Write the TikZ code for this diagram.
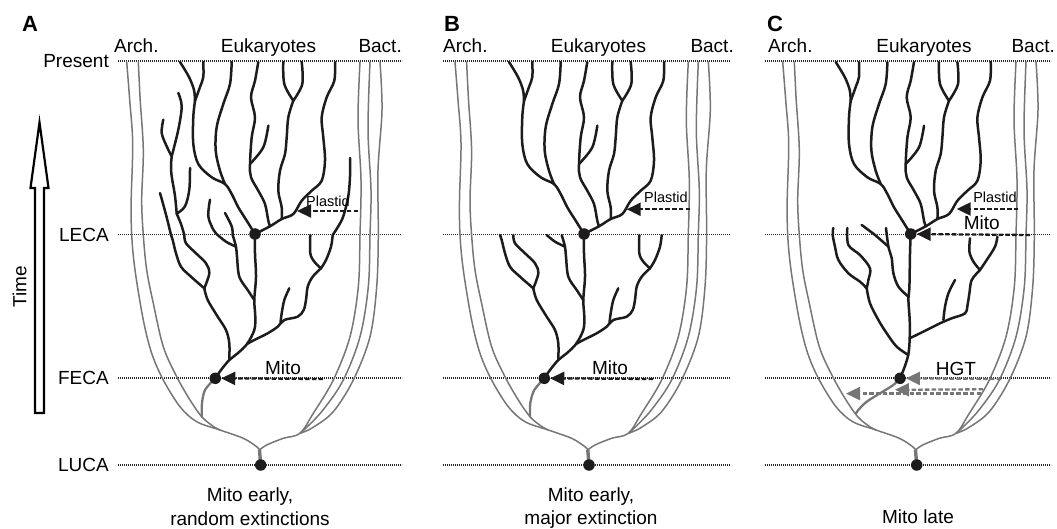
\documentclass[tikz,border=0pt]{standalone}
\usepackage{fontspec}
\setmainfont{Liberation Sans}
\usetikzlibrary{arrows.meta}
\definecolor{eukc}{RGB}{30,27,28}
\definecolor{grc}{RGB}{118,118,118}
\newcommand\lin[1]{\draw[euk] plot[smooth,tension=0.55] coordinates {#1};}
\newcommand\glin[1]{\draw[gr] plot[smooth,tension=0.55] coordinates {#1};}
% upper tree, relative to LECA
\newcommand\UpTree{%
\lin{(-75,-172) (-66,-157) (-61,-144) (-60,-133)}
\lin{(-51.7,-172) (-51.7,-157) (-55,-147) (-60,-133)}
\lin{(-60,-133) (-61.7,-117) (-61.7,-90) (-56.7,-70) (-43.3,-56.7) (-30,-50) (-23.3,-40) (-16.7,-26.7) (-8.3,-13.3) (0,0)}
\lin{(-23.3,-172) (-25,-150) (-31.7,-130) (-38.3,-107) (-39.3,-83.3) (-35,-63.3) (-30,-50)}
\lin{(13.3,-108.3) (8.3,-86.7) (-5,-70)}
\lin{(3.3,-172) (0,-153.3) (-4,-136.7) (0,-116.7) (-3.3,-96.7) (-5,-70) (-4,-56.7) (3.3,-43.3) (10,-30) (13.3,-13.3) (15,-7.7)}
\lin{(28.3,-172) (29.3,-150) (38.3,-133.3)}
\lin{(46.7,-172) (47.3,-150) (38.3,-133.3)}
\lin{(38.3,-133.3) (33.3,-116.7) (31.7,-96.7) (30,-80) (25,-63.3) (23.3,-43.3) (26.7,-26.7) (26.7,-15)}
\lin{(80,-172) (79.3,-153.3) (71.7,-136.7) (66.7,-116.7) (68.3,-96.7) (70,-73.3) (66.7,-53.3) (56.7,-43.3) (46.7,-33.3) (38.3,-20) (26.7,-15) (15,-7.7) (0,0)}
}
% lower tree (panels A, B), relative to LECA
\newcommand\LowTree{%
\lin{(0,0) (0,19.3) (1,42.7) (-0.7,66) (0.3,82.7) (-0.7,96) (-8,110) (-17.3,119.3) (-25.7,126) (-34,136) (-39.7,144.3)}
\lin{(-84,1) (-82.3,6) (-79,19.3) (-74,32.7) (-64,42.7) (-50.7,54.3)}
\lin{(-70.7,1) (-69,9.3) (-59,19.3) (-49,29.3) (-45.7,39.3) (-50.7,54.3)}
\lin{(-50.7,54.3) (-47.3,66) (-37.3,82.7) (-29,96) (-25.7,109.3) (-25.7,126)}
\lin{(-37.3,1) (-29,7.7) (-19,12.7)}
\lin{(-22.3,1) (-19,12.7) (-18,22.7) (-15.7,42.7) (-7.3,56) (-0.7,66)}
\lin{(55.3,1) (55.3,19.3) (59.3,27.7) (66,34.3)}
\lin{(77.7,1) (76,12.7) (71,26) (66,34.3)}
\lin{(66,34.3) (57.7,42.7) (52.7,52.7) (51,66) (48.7,76) (42.7,82.7) (29.3,86) (22.7,92.7) (12.7,99.3) (-0.7,106) (-8,110)}
\lin{(34.3,54.3) (29.3,66) (26.7,79.3) (25.5,88.5)}
}
% grey frame, relative to LUCA
\newcommand\GrayFrame{%
\glin{(-134,-403) (-131,-365) (-128,-322) (-129.5,-265) (-129,-230) (-125.7,-195) (-117.4,-145) (-109,-111.7) (-97.4,-85) (-80.7,-58.3) (-64,-43.3) (-40.7,-35) (-17.4,-26.7) (-4,-18.3) (-1.2,-15)}
\glin{(-122.4,-403) (-120.5,-365) (-117.4,-315) (-119,-265) (-117.4,-230) (-114,-195) (-107.4,-161.7) (-97.4,-118.3) (-84,-88.3) (-70.7,-65) (-59,-48.3) (-48,-39) (-40.7,-35)}
\glin{(99.3,-403) (97.3,-345) (100.3,-285) (99.3,-230) (97.6,-178.3) (89.3,-128.3) (72.6,-85) (52.6,-51.7) (39.3,-31.7) (22.6,-26.7) (6,-20) (-1.2,-15)}
\glin{(109.3,-403) (107.3,-335) (110.3,-275) (109.3,-230) (107.6,-178.3) (99.3,-128.3) (82.6,-85) (62.3,-55) (45.3,-37) (39.3,-31.7)}
\glin{(119.3,-403) (121.3,-355) (117.3,-295) (117.6,-230) (116,-178.3) (109.3,-128.3) (92.6,-85) (72.3,-53) (51.3,-37) (39.3,-31.7)}
\draw[gr,line width=3.4pt,line cap=butt] (-1.2,-15) -- (0,0);
}
\begin{document}
\begin{tikzpicture}[x=1pt,y=-1pt,
  euk/.style={line width=2.5pt, line cap=round, line join=round, draw=eukc},
  gr/.style={line width=1.5pt, line cap=round, line join=round, draw=grc},
  grstem/.style={line width=2.3pt, line cap=round, draw=grc},
  dotl/.style={line width=1.6pt, draw=black!85, dash pattern=on 1.1pt off 0.9pt},
  dotn/.style={circle, fill=eukc, inner sep=0pt, minimum size=11.5pt},
  lbl/.style={font=\fontsize{19}{22}\selectfont, inner sep=0pt, text=black},
  small/.style={font=\fontsize{14.5}{17}\selectfont, inner sep=0pt, text=black},
  letter/.style={font=\fontsize{22}{24}\selectfont\bfseries, inner sep=0pt},
  transfer/.style={line width=2.3pt, draw=eukc, dash pattern=on 4.5pt off 2.2pt, -{Triangle[length=14pt,width=13pt]}},
  hgt/.style={line width=2.3pt, draw=grc, dash pattern=on 4.5pt off 2.2pt, -{Triangle[length=14pt,width=13pt]}}
]
\useasboundingbox (0,0) rectangle (1057,529);

% dotted time lines
\foreach \xa/\xb in {118/402, 443/730, 765/1051}{
  \foreach \yy in {61,234.5,378,465}{
    \draw[dotl] (\xa,\yy) -- (\xb,\yy);
  }
}

% time arrow
\draw[line width=2.2pt, fill=white, line join=miter] (35,413) -- (35,188) -- (30.5,188) -- (39.5,122.5) -- (48.5,188) -- (44,188) -- (44,413) -- cycle;
\node[lbl, rotate=90] (time) at (19.5,286.5) {Time};

% row labels
\node[lbl, anchor=base east] (present) at (109,67.5) {Present};
\node[lbl, anchor=base east] (leca) at (109,241.2) {LECA};
\node[lbl, anchor=base east] (feca) at (109,384.7) {FECA};
\node[lbl, anchor=base east] (luca) at (109,471.7) {LUCA};

% panel letters and headers
\node[letter, anchor=base west] (letA) at (22,32) {A};
\node[letter, anchor=base west] (letB) at (444,32) {B};
\node[letter, anchor=base west] (letC) at (767,32) {C};
\node[lbl, anchor=base west] (archA) at (114,53) {Arch.};
\node[lbl, anchor=base] (eukA) at (268.5,53) {Eukaryotes};
\node[lbl, anchor=base east] (bactA) at (402,53) {Bact.};
\node[lbl, anchor=base west] (archB) at (443,53) {Arch.};
\node[lbl, anchor=base] (eukB) at (598.5,53) {Eukaryotes};
\node[lbl, anchor=base east] (bactB) at (734,53) {Bact.};
\node[lbl, anchor=base west] (archC) at (768,53) {Arch.};
\node[lbl, anchor=base] (eukC) at (924,53) {Eukaryotes};
\node[lbl, anchor=base east] (bactC) at (1055,53) {Bact.};

% ---------- panel A ----------
\begin{scope}[shift={(260.7,465)}]
  \GrayFrame
  \draw[grstem] plot[smooth] coordinates {(-45.7,-86.7) (-55.7,-75) (-58.7,-62) (-59,-48.3)};
\end{scope}
\begin{scope}[shift={(255,234)}]
  \UpTree
  \LowTree
  \lin{(-95,-41) (-91.7,-29.3) (-87.7,-14.3) (-84,1)}
  \lin{(-78.3,-20.3) (-74,-10) (-70.7,1)}
  \lin{(-83.3,-77.7) (-84,-68) (-83.3,-57.7) (-80,-38) (-78.3,-20.3)}
  \lin{(-65,-66) (-65.7,-44.3) (-70,-27.7) (-78.3,-20.3)}
  \lin{(-76.7,-141) (-73.3,-127.7) (-76.7,-104.3) (-83.3,-77.7)}
  \lin{(-91.7,-114.3) (-93.3,-101) (-88.3,-87.7) (-83.3,-77.7)}
  \lin{(-45,-34.3) (-46.7,-17.7) (-41.7,-4.3) (-37.3,1)}
  \lin{(-30,-21) (-23.3,-7.7) (-22.3,1)}
  \lin{(95,-76) (95,-57.7) (93.3,-37.7) (88.3,-17.7) (83.3,-7.7) (77.7,1)}
\end{scope}
\node[dotn] (lecaA) at (255,234) {};
\node[dotn] (fecaA) at (215.3,378.3) {};
\node[dotn] (lucaA) at (260.7,465) {};
\coordinate (plA0) at (358,211);
\coordinate (plA1) at (297,211);
\draw[transfer] (plA0) -- (plA1);
\node[small, anchor=base] (plAl) at (328,207) {Plastid};
\coordinate (miA0) at (323,379);
\draw[transfer] (miA0) -- (fecaA);
\node[lbl, anchor=base] (miAl) at (283,374) {Mito};
\node[lbl, anchor=base] (capA1) at (250,501.5) {Mito early,};
\node[lbl, anchor=base] (capA2) at (250,525.5) {random extinctions};

% ---------- panel B ----------
\begin{scope}[shift={(589,465)}]
  \GrayFrame
  \draw[grstem] plot[smooth] coordinates {(-44.7,-86.7) (-54.7,-75) (-58.7,-62) (-59,-48.3)};
\end{scope}
\begin{scope}[shift={(584,234)}]
  \UpTree
  \LowTree
\end{scope}
\node[dotn] (lecaB) at (584,234) {};
\node[dotn] (fecaB) at (544.3,378.3) {};
\node[dotn] (lucaB) at (589,465) {};
\coordinate (plB0) at (690,209.3);
\coordinate (plB1) at (626.7,209.3);
\draw[transfer] (plB0) -- (plB1);
\node[small, anchor=base] (plBl) at (666,202.7) {Plastid};
\coordinate (miB0) at (653,379);
\draw[transfer] (miB0) -- (fecaB);
\node[lbl, anchor=base] (miBl) at (610,374) {Mito};
\node[lbl, anchor=base] (capB1) at (591,501.5) {Mito early,};
\node[lbl, anchor=base] (capB2) at (591,524.5) {major extinction};

% ---------- panel C ----------
\begin{scope}[shift={(916.7,465)}]
  \GrayFrame
  \draw[grstem] plot[smooth] coordinates {(-16.7,-86.7) (-23.4,-80) (-36.7,-71.7) (-50,-63.3) (-58.4,-55) (-61,-51)};
\end{scope}
\begin{scope}[shift={(910.7,234)}]
  \UpTree
  \lin{(0,0) (-0.7,19.3) (-1.3,52.7) (-2.3,66) (-1,86) (-1,104.3) (-2.3,120) (-6,132.7) (-10.7,144.3)}
  \lin{(-77.4,-6) (-78,1) (-75.7,12.7) (-72.3,26) (-62.3,39.3) (-50.7,47.7) (-44,54.3)}
  \lin{(-63.4,-6) (-62.3,11) (-50.7,21) (-40.7,34.3) (-42.3,46) (-44,54.3)}
  \lin{(-44,54.3) (-40.7,69.3) (-32.3,86) (-24,99.3) (-14,112.7) (-2.3,121)}
  \lin{(-49,-9) (-35.7,1) (-22.3,12.7)}
  \lin{(-24.7,-6) (-22.3,12.7) (-19,24) (-17.3,39.3) (-12.3,52.7) (-2.3,62.7)}
  \lin{(59.3,4.3) (58.7,17.7) (62.7,27.7) (69.3,36)}
  \lin{(86.7,2.7) (84.3,12.7) (76,26) (69.3,36)}
  \lin{(69.3,36) (61,46) (58.7,59.3) (57,70) (54.3,79.3) (41,84.3) (29.3,89.3) (16,96) (-1,104.3)}
  \lin{(44.3,46) (37.7,59.3) (34.3,72.7) (32.7,86)}
\end{scope}
\node[dotn] (lecaC) at (910.7,234) {};
\node[dotn] (fecaC) at (900,378.3) {};
\node[dotn] (lucaC) at (916.7,465) {};
\coordinate (plC0) at (1018.3,209);
\coordinate (plC1) at (956.7,209);
\draw[transfer] (plC0) -- (plC1);
\node[small, anchor=base] (plCl) at (995,202.5) {Plastid};
\coordinate (miC0) at (1030,235);
\draw[transfer] (miC0) -- (lecaC);
\node[lbl, anchor=base] (miCl) at (981.7,230) {Mito};
\coordinate (hg10) at (1001,379);
\draw[hgt] (hg10) -- (fecaC);
\coordinate (hg20) at (983,389.3);
\coordinate (hg21) at (895,389.8);
\draw[hgt] (hg20) -- (hg21);
\coordinate (hg30) at (981,393.6);
\coordinate (hg31) at (846,393.6);
\draw[hgt] (hg30) -- (hg31);
\node[lbl, anchor=base] (hgtl) at (956,375) {HGT};
\node[lbl, anchor=base] (capC) at (918,523.3) {Mito late};

\end{tikzpicture}
\end{document}
